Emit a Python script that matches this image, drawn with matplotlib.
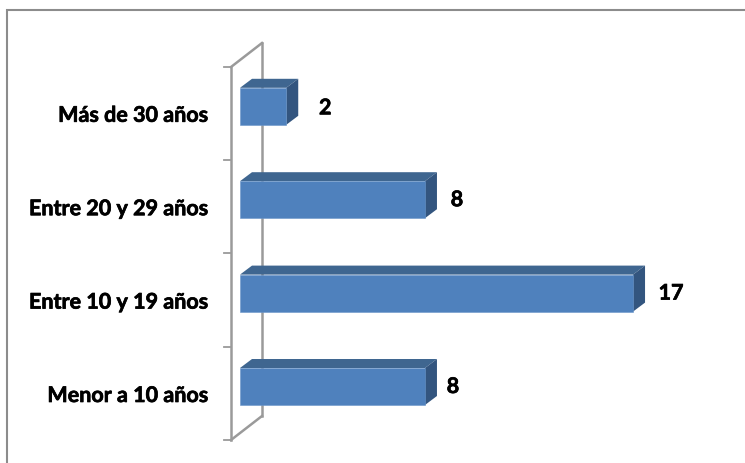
# -*- coding: utf-8 -*-
import matplotlib
matplotlib.use('Agg')
import matplotlib.pyplot as plt
import matplotlib.patheffects as pe
from matplotlib.patches import Polygon

# Datos
categorias = ['Menor a 10 años', 'Entre 10 y 19 años', 'Entre 20 y 29 años', 'Más de 30 años']
valores = [8, 17, 8, 2]

# Escala en pixeles
W, H = 745, 463
px_x = 23.12   # pixeles por unidad en x
px_y = 93.4    # pixeles entre categorias
x0_px = 240    # donde cae el valor 0
y0_px = 386.5  # donde cae la primera categoria

azul = '#4F81BD'
azul_arriba = '#3F6690'
azul_lado = '#33557F'
gris = '#9A9A9A'

plt.rcParams['font.family'] = ['Lato', 'DejaVu Sans']

fig = plt.figure(figsize=(W / 100, H / 100), dpi=100)
ax = fig.add_axes([0, 0, 1, 1])
ax.set_xlim(-x0_px / px_x, (W - x0_px) / px_x)
ax.set_ylim((y0_px - H) / px_y, y0_px / px_y)
ax.axis('off')


# pixeles -> datos
def dx(p):
    return p / px_x


def dy(p):
    return p / px_y


# Borde del grafico
ax.plot([dx(7 - x0_px), dx(7 - x0_px), dx(W - x0_px)],
        [dy(y0_px - H), dy(y0_px - 10), dy(y0_px - 10)],
        color='#8C8C8C', lw=1.5, solid_capstyle='butt', solid_joinstyle='miter', zorder=1)

# Pared del eje vertical
fx, bx = dx(231 - x0_px), dx(262 - x0_px)
sup, inf = dy(y0_px - 67), dy(y0_px - 440)
prof = dy(24)
ax.plot([fx, fx], [inf, sup], color=gris, lw=1.8, zorder=2)
ax.plot([bx, bx], [inf + prof, sup + prof], color=gris, lw=1.8, zorder=2)
ax.plot([fx, bx], [sup, sup + prof], color=gris, lw=1.8, zorder=2)
ax.plot([fx, bx], [inf, inf + prof], color=gris, lw=1.8, zorder=2)
for i in range(len(categorias) + 1):
    yt = i - 0.5 - dy(7)
    ax.plot([dx(224 - x0_px), fx], [yt, yt], color=gris, lw=1.3, zorder=2)

# Barras en 3D
alto = 37 / px_y
ox, oy = dx(12), dy(9)
for i, v in enumerate(valores):
    y1, y2 = i - alto / 2, i + alto / 2
    ax.add_patch(Polygon([(0, y2), (v, y2), (v + ox, y2 + oy), (ox, y2 + oy)],
                         fc=azul_arriba, ec='none', zorder=3))
    ax.add_patch(Polygon([(v, y1), (v + ox, y1 + oy), (v + ox, y2 + oy), (v, y2)],
                         fc=azul_lado, ec='none', zorder=3))
    ax.barh(i, v, height=alto, color=azul, edgecolor='#6C97CA', linewidth=0.4, zorder=4)

# un poco mas de grosor en el texto
grueso = [pe.withStroke(linewidth=0.5, foreground='black')]

# Etiquetas de categoria
for i, c in enumerate(categorias):
    ax.text(dx(208 - x0_px), i + dy(-9), c, ha='right', va='center', fontsize=15.5,
            fontweight='bold', color='black', zorder=5, path_effects=grueso)

# Etiquetas de valor
desp = [28, 38, 32, 39]
alt = [0, 0, 0, -1.5]
for i, v in enumerate(valores):
    ax.text(v + dx(desp[i]), i + dy(alt[i]), str(v), ha='center', va='center', fontsize=15.5,
            fontweight='bold', color='black', zorder=5, path_effects=grueso)

fig.savefig('out.png', dpi=100, facecolor='white')
